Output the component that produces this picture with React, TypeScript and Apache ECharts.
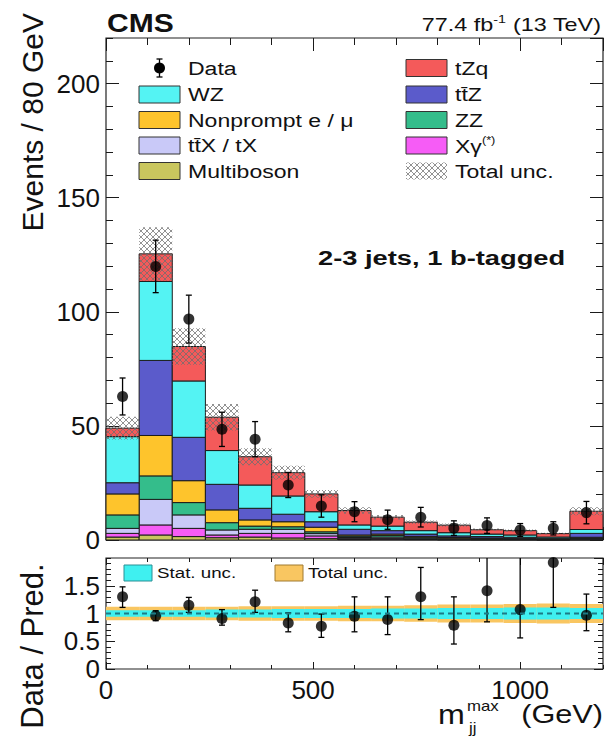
import { useEffect, useRef } from "react";
import * as echarts from "echarts";

// ---------- data ----------
const binEdges = [0, 80, 160, 240, 320, 400, 480, 560, 640, 720, 800, 880, 960, 1040, 1120, 1200];

// stacked components, bottom -> top
const multiboson = [1.3, 2.2, 1.5, 1.0, 1.3, 0.9, 0.6, 0.2, 0.3, 0.2, 0.1, 0.1, 0.1, 0.05, 0.1];
const xGamma = [1.6, 4.4, 3.6, 1.2, 1.6, 2.0, 1.2, 0.4, 0.4, 0.2, 0.2, 0.1, 0.1, 0.05, 0.2];
const ttX = [2.2, 11.2, 5.9, 2.2, 1.8, 1.8, 1.0, 0.5, 0.6, 0.4, 0.2, 0.2, 0.1, 0.1, 0.3];
const zz = [5.9, 10.3, 5.4, 3.2, 1.4, 1.1, 0.8, 0.6, 0.7, 0.4, 0.3, 0.3, 0.2, 0.1, 0.3];
const nonprompt = [9.2, 17.7, 9.6, 5.6, 2.7, 2.2, 2.0, 0.5, 0.6, 0.4, 0.3, 0.2, 0.2, 0.1, 0.3];
const ttZ = [4.9, 32.9, 19.0, 11.2, 5.1, 3.3, 2.4, 2.5, 1.5, 1.0, 0.7, 0.6, 0.5, 0.3, 1.7];
const wz = [20.2, 34.6, 24.7, 14.8, 10.2, 8.0, 4.4, 1.9, 2.0, 1.5, 1.4, 1.1, 1.0, 0.6, 1.7];
const tZq = [3.7, 12.1, 15.1, 14.6, 12.4, 10.2, 7.8, 6.3, 3.9, 3.7, 3.3, 1.9, 1.9, 1.5, 8.0];

const totalUnc = [5.0, 11.7, 8.0, 5.8, 3.7, 3.0, 1.7, 1.4, 1.0, 0.8, 0.7, 0.5, 0.5, 0.4, 1.7];

const dataCounts = [62.9, 119.9, 96.8, 48.5, 44.2, 24.1, 14.9, 12.4, 8.9, 10.0, 5.2, 6.3, 4.4, 5.1, 12.0];
const dataErr = [8.1, 11.5, 10.5, 7.5, 7.7, 5.5, 4.9, 4.4, 4.2, 4.3, 3.2, 3.4, 2.8, 2.9, 4.9];

// ratio panel
const ratioVals = [1.30, 0.96, 1.15, 0.91, 1.21, 0.83, 0.77, 0.95, 0.89, 1.30, 0.79, 1.41, 1.07, 1.92, 0.97];
const ratioLow = [1.11, 0.87, 1.02, 0.79, 1.02, 0.67, 0.57, 0.67, 0.62, 0.89, 0.45, 0.85, 0.56, 1.11, 0.69];
const ratioHigh = [1.48, 1.05, 1.29, 1.07, 1.42, 1.01, 0.99, 1.30, 1.30, 1.83, 1.30, 2.3, 2.2, 3.0, 1.35];
const ratioStatUnc = [0.06, 0.06, 0.06, 0.07, 0.07, 0.08, 0.08, 0.08, 0.09, 0.09, 0.10, 0.10, 0.11, 0.11, 0.10];
const ratioTotalUnc = [0.12, 0.12, 0.12, 0.12, 0.13, 0.13, 0.13, 0.14, 0.14, 0.15, 0.16, 0.16, 0.17, 0.18, 0.17];

// axis ranges
const xRange = [0, 1200];
const mainYRange = [0, 220];
const ratioYRange = [0, 2];

// labels
const processNames = ["Multiboson", "Xγ", "tt\u0304X / tX", "ZZ", "Nonprompt e / μ", "tt\u0304Z", "WZ", "tZq"];
const processColors = ["#c9c65e", "#f65cf6", "#c9c9f8", "#34bd8b", "#fec42c", "#5b5bcb", "#54f3f3", "#f45a5a"];
const processValues = [multiboson, xGamma, ttX, zz, nonprompt, ttZ, wz, tZq];
const legendLeftOrder = ["Data", "WZ", "Nonprompt e / μ", "tt\u0304X / tX", "Multiboson"];
const legendRightOrder = ["tZq", "tt\u0304Z", "ZZ", "Xγ", "Total unc."];

const FONT = '"Liberation Sans", Arial, Helvetica, sans-serif';

export default function App() {
  const ref = useRef<HTMLDivElement>(null);

  useEffect(() => {
    document.body.style.margin = "0";
    const chart = echarts.init(ref.current as HTMLDivElement, undefined, { renderer: "svg" });

    const hatchSvg =
      '<svg xmlns="http://www.w3.org/2000/svg" width="6" height="6">' +
      '<path d="M0 0L6 6M6 0L0 6" stroke="#6e6e6e" stroke-width="0.75" fill="none"/></svg>';
    const hatchPattern: any = {
      image: "data:image/svg+xml;charset=utf-8," + encodeURIComponent(hatchSvg),
      repeat: "repeat",
      imageWidth: 6,
      imageHeight: 6,
    };

    const nb = binEdges.length - 1;
    const centers = Array.from({ length: nb }, (_, i) => (binEdges[i] + binEdges[i + 1]) / 2);

    const rectRender = (fill: any, stroke: string | null) => (params: any, api: any) => {
      const lo = api.value(0), hi = api.value(1), b = api.value(2), t = api.value(3);
      const p0 = api.coord([lo, t]);
      const p1 = api.coord([hi, b]);
      return {
        type: "rect",
        shape: { x: p0[0], y: p0[1], width: p1[0] - p0[0], height: p1[1] - p0[1] },
        style: stroke ? { fill, stroke, lineWidth: 1 } : { fill },
      };
    };

    const errRender = (capHalf: number, yMax: number) => (params: any, api: any) => {
      const x = api.value(0), lo = api.value(1), hi = api.value(2);
      const hiC = Math.min(hi, yMax);
      const top = api.coord([x, hiC]);
      const bot = api.coord([x, lo]);
      const st = { stroke: "#000", lineWidth: 1.3 };
      const children: any[] = [
        { type: "line", shape: { x1: top[0], y1: top[1], x2: bot[0], y2: bot[1] }, style: st },
        { type: "line", shape: { x1: bot[0] - capHalf, y1: bot[1], x2: bot[0] + capHalf, y2: bot[1] }, style: st },
      ];
      if (hi <= yMax) {
        children.push({ type: "line", shape: { x1: top[0] - capHalf, y1: top[1], x2: top[0] + capHalf, y2: top[1] }, style: st });
      }
      return { type: "group", children };
    };

    // stacked histogram
    const cum = new Array(nb).fill(0);
    const stackSeries = processValues.map((vals, k) => {
      const data = vals.map((v, i) => {
        const b = cum[i];
        cum[i] += v;
        return [binEdges[i], binEdges[i + 1], b, cum[i]];
      });
      return {
        type: "custom",
        name: processNames[k],
        xAxisIndex: 0,
        yAxisIndex: 0,
        renderItem: rectRender(processColors[k], "#1c1c1c"),
        data,
      };
    });
    const hatchData = cum.map((t, i) => [binEdges[i], binEdges[i + 1], t - totalUnc[i], t + totalUnc[i]]);

    const tickStyle = { color: "#1a1a1a", width: 1 };
    const labelStyle = {
      show: true,
      fontSize: 26,
      fontFamily: FONT,
      color: "#111",
      showMaxLabel: false,
      formatter: (v: number) => String(v),
    };

    const mkX = (gridIndex: number, position: string, interval: number, len: number, labels: boolean) => ({
      type: "value",
      gridIndex,
      position,
      min: xRange[0],
      max: xRange[1],
      interval,
      axisLine: { show: false, onZero: false },
      axisTick: { show: true, inside: true, length: len, lineStyle: tickStyle },
      axisLabel: labels ? { ...labelStyle, margin: 8 } : { show: false },
      splitLine: { show: false },
    });
    const mkY = (gridIndex: number, position: string, range: number[], interval: number, len: number, labels: boolean) => ({
      type: "value",
      gridIndex,
      position,
      min: range[0],
      max: range[1],
      interval,
      axisLine: { show: false, onZero: false },
      axisTick: { show: true, inside: true, length: len, lineStyle: tickStyle },
      axisLabel: labels ? { ...labelStyle, margin: 6 } : { show: false },
      splitLine: { show: false },
    });

    const xAxis = [
      mkX(0, "bottom", 500, 13, false),
      mkX(0, "bottom", 100, 7, false),
      mkX(0, "top", 500, 13, false),
      mkX(0, "top", 100, 7, false),
      mkX(1, "bottom", 500, 7, true),
      mkX(1, "bottom", 100, 4, false),
      mkX(1, "top", 500, 7, false),
      mkX(1, "top", 100, 4, false),
    ];
    const yAxis = [
      mkY(0, "left", mainYRange, 50, 13, true),
      mkY(0, "left", mainYRange, 10, 7, false),
      mkY(0, "right", mainYRange, 50, 13, false),
      mkY(0, "right", mainYRange, 10, 7, false),
      mkY(1, "left", ratioYRange, 0.5, 9, true),
      mkY(1, "left", ratioYRange, 0.1, 5, false),
      mkY(1, "right", ratioYRange, 0.5, 9, false),
      mkY(1, "right", ratioYRange, 0.1, 5, false),
    ];

    const series: any[] = [
      ...stackSeries,
      {
        type: "custom",
        name: "Total unc.",
        xAxisIndex: 0,
        yAxisIndex: 0,
        renderItem: rectRender(hatchPattern, null),
        data: hatchData,
      },
      {
        type: "custom",
        name: "Data err",
        xAxisIndex: 0,
        yAxisIndex: 0,
        renderItem: errRender(3, mainYRange[1]),
        data: centers.map((c, i) => [c, dataCounts[i] - dataErr[i], dataCounts[i] + dataErr[i]]),
      },
      {
        type: "scatter",
        name: "Data",
        xAxisIndex: 0,
        yAxisIndex: 0,
        symbol: "circle",
        symbolSize: 11,
        itemStyle: { color: "#000" },
        data: centers.map((c, i) => [c, dataCounts[i]]),
      },
      // ratio panel
      {
        type: "custom",
        name: "Total unc. ratio",
        xAxisIndex: 4,
        yAxisIndex: 4,
        renderItem: rectRender("#f9c661", null),
        data: ratioTotalUnc.map((u, i) => [binEdges[i], binEdges[i + 1], 1 - u, 1 + u]),
      },
      {
        type: "custom",
        name: "Stat. unc. ratio",
        xAxisIndex: 4,
        yAxisIndex: 4,
        renderItem: rectRender("#3ff0f0", null),
        data: ratioStatUnc.map((u, i) => [binEdges[i], binEdges[i + 1], 1 - u, 1 + u]),
      },
      {
        type: "line",
        name: "unity",
        xAxisIndex: 4,
        yAxisIndex: 4,
        symbol: "none",
        lineStyle: { color: "#1d7b86", width: 2, type: [5, 4] },
        data: [[xRange[0], 1], [xRange[1], 1]],
      },
      {
        type: "custom",
        name: "Ratio err",
        xAxisIndex: 4,
        yAxisIndex: 4,
        renderItem: errRender(3, ratioYRange[1]),
        data: centers.map((c, i) => [c, ratioLow[i], ratioHigh[i]]),
      },
      {
        type: "scatter",
        name: "Ratio",
        xAxisIndex: 4,
        yAxisIndex: 4,
        symbol: "circle",
        symbolSize: 11,
        itemStyle: { color: "#000" },
        data: centers.map((c, i) => [c, ratioVals[i]]),
      },
    ];

    // ---------- graphic texts & legend ----------
    const txt = (text: string, x: number, y: number, size: number, opts: any = {}) => ({
      type: "text",
      x,
      y,
      scaleX: opts.scaleX ?? 1,
      rotation: opts.rotation ?? 0,
      z: 100,
      style: {
        text,
        fontSize: size,
        fontFamily: FONT,
        fontWeight: opts.bold ? "bold" : "normal",
        fill: "#111",
        align: opts.align ?? "left",
        textAlign: opts.align ?? "left",
        verticalAlign: "middle",
        textVerticalAlign: "middle",
        ...(opts.rich ? { rich: opts.rich } : {}),
      },
    });

    const rowsY = [68, 94.5, 120, 145.5, 171];
    const boxW = 41, boxH = 17;
    const legendEls: any[] = [];
    const colorOf = (name: string) => processColors[processNames.indexOf(name)];
    const addEntry = (name: string, bx: number, tx: number, y: number) => {
      if (name === "Data") {
        const cx = bx + boxW / 2;
        legendEls.push({ type: "line", shape: { x1: cx, y1: y - 9, x2: cx, y2: y + 9 }, style: { stroke: "#000", lineWidth: 1.3 }, z: 100 });
        legendEls.push({ type: "line", shape: { x1: cx - 3, y1: y - 9, x2: cx + 3, y2: y - 9 }, style: { stroke: "#000", lineWidth: 1.3 }, z: 100 });
        legendEls.push({ type: "line", shape: { x1: cx - 3, y1: y + 9, x2: cx + 3, y2: y + 9 }, style: { stroke: "#000", lineWidth: 1.3 }, z: 100 });
        legendEls.push({ type: "circle", shape: { cx, cy: y, r: 5.5 }, style: { fill: "#000" }, z: 100 });
      } else if (name === "Total unc.") {
        legendEls.push({ type: "rect", shape: { x: bx, y: y - boxH / 2, width: boxW, height: boxH }, style: { fill: hatchPattern }, z: 100 });
      } else {
        legendEls.push({
          type: "rect",
          shape: { x: bx, y: y - boxH / 2, width: boxW, height: boxH },
          style: { fill: colorOf(name), stroke: "#333", lineWidth: 1 },
          z: 100,
        });
      }
      if (name === "Xγ") {
        legendEls.push(
          txt("{a|Xγ}{s|(*)}", tx, y, 18, {
            scaleX: 1.28,
            rich: {
              a: { fontSize: 18, fontFamily: FONT, fill: "#111", lineHeight: 20, verticalAlign: "bottom" },
              s: { fontSize: 10, fontFamily: FONT, fill: "#111", lineHeight: 10, verticalAlign: "top" },
            },
          })
        );
      } else {
        legendEls.push(txt(name, tx, y, 18, { scaleX: 1.28 }));
      }
    };
    legendLeftOrder.forEach((n, i) => addEntry(n, 139, 188, rowsY[i]));
    legendRightOrder.forEach((n, i) => addEntry(n, 406, 455, rowsY[i]));

    // ratio legend
    legendEls.push({ type: "rect", shape: { x: 124, y: 565, width: 28, height: 16 }, style: { fill: "#3ff0f0", stroke: "#2a8f95", lineWidth: 1 }, z: 100 });
    legendEls.push(txt("Stat. unc.", 157, 573, 15, { scaleX: 1.25 }));
    legendEls.push({ type: "rect", shape: { x: 275, y: 565, width: 28, height: 16 }, style: { fill: "#f9c661", stroke: "#a07a30", lineWidth: 1 }, z: 100 });
    legendEls.push(txt("Total unc.", 308, 573, 15, { scaleX: 1.25 }));

    const graphicEls: any[] = [
      ...legendEls,
      txt("CMS", 107, 23, 25, { bold: true, scaleX: 1.2 }),
      txt("{a|77.4 fb}{s|-1}{a| (13 TeV)}", 601, 24, 18, {
        align: "right",
        scaleX: 1.3,
        rich: {
          a: { fontSize: 18, fontFamily: FONT, fill: "#111", lineHeight: 20, verticalAlign: "bottom" },
          s: { fontSize: 11, fontFamily: FONT, fill: "#111", lineHeight: 11, verticalAlign: "top" },
        },
      }),
      txt("2-3 jets, 1 b-tagged", 318, 258, 21, { bold: true, scaleX: 1.3 }),
      txt("Events / 80 GeV", 32, 13, 30, { align: "right", rotation: Math.PI / 2 }),
      txt("Data / Pred.", 32, 646, 31, { align: "center", rotation: Math.PI / 2 }),
      txt("m", 438, 714, 28, { scaleX: 1.15 }),
      txt("max", 467, 706, 14, { scaleX: 1.2 }),
      txt("jj", 469, 728, 14, { scaleX: 1.2 }),
      txt("(GeV)", 603, 714, 26, { align: "right", scaleX: 1.18 }),
    ];

    const option: any = {
      animation: false,
      backgroundColor: "#ffffff",
      textStyle: { fontFamily: FONT },
      grid: [
        { left: 106, top: 38, width: 497, height: 502, show: true, borderColor: "#222", borderWidth: 1.2, backgroundColor: "transparent" },
        { left: 106, top: 558, width: 497, height: 111, show: true, borderColor: "#222", borderWidth: 1.2, backgroundColor: "transparent" },
      ],
      xAxis,
      yAxis,
      series,
      graphic: { elements: graphicEls },
    };

    chart.setOption(option);
    return () => chart.dispose();
  }, []);

  return <div ref={ref} style={{ width: 604, height: 738 }} />;
}
